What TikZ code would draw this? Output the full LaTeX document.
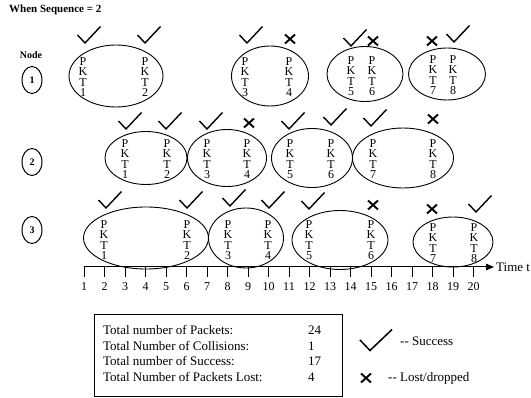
\documentclass[tikz,border=0pt]{standalone}
\usepackage{fontspec}
\setmainfont{Liberation Serif}
\usetikzlibrary{shapes.geometric,arrows.meta}
\tikzset{
 okmark/.pic={\draw[line width=1.4pt,line join=miter] (-11.5,0) -- (-4,8) -- (11.5,-8.5);},
 bigok/.pic={\draw[line width=1.5pt,line join=miter] (-16,0) -- (-6,10.5) -- (16,-10.5);},
 lostmark/.pic={\draw[line width=1.9pt] (-5,-4.5) -- (5,4.5) (-5,4.5) -- (5,-4.5);},
 slot/.style={ellipse, draw, line width=0.9pt, inner sep=0pt},
 pkt/.style={align=center, font=\fontsize{12}{10.5}\selectfont, inner sep=0pt},
 nodecirc/.style={ellipse, draw, line width=1pt, minimum width=20pt, minimum height=27pt, inner sep=0pt, font=\bfseries\fontsize{10}{12}\selectfont},
 boxtext/.style={anchor=west, inner sep=0pt, font=\fontsize{13}{15}\selectfont},
}
\newcommand\pktlabel[3]{\node[pkt] (#1) at (#2) {P\\K\\T\\#3};}
\begin{document}
\begin{tikzpicture}[x=1pt,y=-1pt]
\useasboundingbox (0,0) rectangle (531,398);
\node[anchor=west, inner sep=0pt, font=\bfseries\fontsize{11}{13}\selectfont] (title) at (9,10) {When Sequence = 2};
\node[inner sep=0pt, font=\bfseries\fontsize{10}{12}\selectfont] (nodehdr) at (31,55) {Node};
\node[nodecirc] (n1) at (32,80) {1};
\node[nodecirc] (n2) at (32,162) {2};
\node[nodecirc] (n3) at (32,230) {3};

% Row 1
\node[slot, minimum width=94pt, minimum height=62pt] (r1a) at (116,76) {};
\node[slot, minimum width=77pt, minimum height=60pt] (r1b) at (270,76) {};
\node[slot, minimum width=76pt, minimum height=55pt] (r1c) at (365,74) {};
\node[slot, minimum width=77pt, minimum height=52pt] (r1d) at (447,74) {};
\pktlabel{a1}{83,77}{1}
\pktlabel{a2}{145,77}{2}
\pktlabel{a3}{245,77}{3}
\pktlabel{a4}{289,77}{4}
\pktlabel{a5}{351,76}{5}
\pktlabel{a6}{372,76}{6}
\pktlabel{a7}{433,75}{7}
\pktlabel{a8}{453,75}{8}
\pic at (89,35) {okmark};
\pic at (149,35) {okmark};
\pic at (251,35) {okmark};
\pic at (290,39) {lostmark};
\pic at (355,38) {okmark};
\pic at (373,41) {lostmark};
\pic at (432,41) {lostmark};
\pic at (458,34) {okmark};

% Row 2
\node[slot, minimum width=82pt, minimum height=53pt] (r2a) at (146,158) {};
\node[slot, minimum width=79pt, minimum height=57pt] (r2b) at (227,158) {};
\node[slot, minimum width=81pt, minimum height=59pt] (r2c) at (312,158) {};
\node[slot, minimum width=101pt, minimum height=60pt] (r2d) at (403,158) {};
\pktlabel{b1}{125,159}{1}
\pktlabel{b2}{167,159}{2}
\pktlabel{b3}{207,159}{3}
\pktlabel{b4}{247,159}{4}
\pktlabel{b5}{290,159}{5}
\pktlabel{b6}{331,159}{6}
\pktlabel{b7}{373,159}{7}
\pktlabel{b8}{433,159}{8}
\pic at (130,121) {okmark};
\pic at (170,121) {okmark};
\pic at (211,121) {okmark};
\pic at (249,123) {lostmark};
\pic at (293,121) {okmark};
\pic at (335,117) {okmark};
\pic at (375,118) {okmark};
\pic at (433,119) {lostmark};

% Row 3
\node[slot, minimum width=125pt, minimum height=62pt] (r3a) at (146,238) {};
\node[slot, minimum width=75pt, minimum height=60pt] (r3b) at (246,238) {};
\node[slot, minimum width=96pt, minimum height=59pt] (r3c) at (340,240) {};
\node[slot, minimum width=80pt, minimum height=50pt] (r3d) at (453,242) {};
\pktlabel{c1}{104,240}{1}
\pktlabel{c2}{187,240}{2}
\pktlabel{c3}{228,240}{3}
\pktlabel{c4}{268,240}{4}
\pktlabel{c5}{309,240}{5}
\pktlabel{c6}{371,240}{6}
\pktlabel{c7}{433,243}{7}
\pktlabel{c8}{474,243}{8}
\pic at (110,200) {okmark};
\pic at (191,200) {okmark};
\pic at (234,198) {okmark};
\pic at (273,200) {okmark};
\pic at (313,201) {okmark};
\pic at (373,205) {lostmark};
\pic at (432,209) {lostmark};
\pic at (480,204) {okmark};

% Time axis
\coordinate (axs) at (84,267);
\coordinate (axe) at (494,267);
\draw[line width=1pt, -{Triangle[length=8pt,width=6.5pt]}] (axs) -- (axe);
\foreach \i in {1,...,20} {
  \draw[line width=1pt] ({84+20.5*(\i-1)},267) -- ++(0,10);
  \node[inner sep=0pt, font=\fontsize{12}{14}\selectfont] (t\i) at ({84+20.5*(\i-1)},287) {\i};
}
\node[anchor=west, inner sep=0pt, font=\fontsize{13}{15}\selectfont] (timet) at (496,267) {Time t};

% Summary box
\node[draw, line width=1pt, minimum width=248pt, minimum height=82pt, inner sep=0pt] (sumbox) at (218,356) {};
\node[boxtext] (l1) at (103,330) {Total number of Packets:};
\node[boxtext] (l2) at (103,346) {Total Number of Collisions:};
\node[boxtext] (l3) at (103,361) {Total number of Success:};
\node[boxtext] (l4) at (103,377) {Total Number of Packets Lost:};
\node[boxtext] (v1) at (308,330) {24};
\node[boxtext] (v2) at (308,346) {1};
\node[boxtext] (v3) at (308,361) {17};
\node[boxtext] (v4) at (308,377) {4};

% Legend
\pic at (376,340) {bigok};
\node[boxtext] (lsucc) at (400,341) {-{}- Success};
\pic at (366,378) {lostmark};
\node[boxtext] (llost) at (388,378) {-{}- Lost/dropped};
\end{tikzpicture}
\end{document}
